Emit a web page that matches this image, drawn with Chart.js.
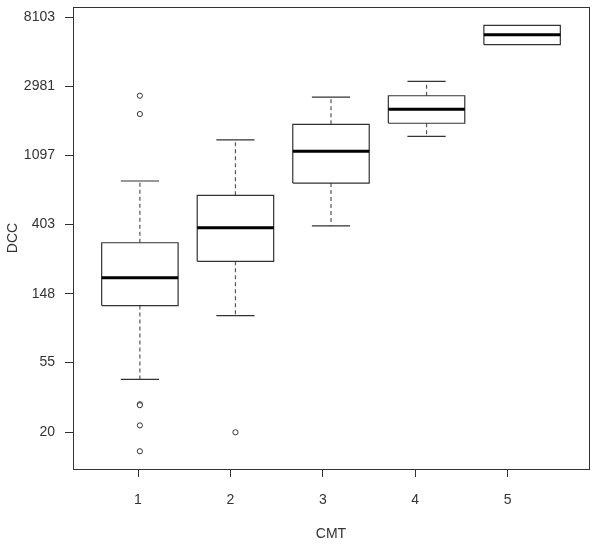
<!DOCTYPE html>
<html>
<head>
<meta charset="utf-8">
<style>
  html, body { margin: 0; padding: 0; background: #fff; }
  #wrap { width: 600px; height: 554px; }
</style>
<script src="https://cdn.jsdelivr.net/npm/chart.js@4/dist/chart.umd.min.js"></script>
</head>
<body>
<div id="wrap"><canvas id="box" width="600" height="554"></canvas></div>
<script>
// CMT groups and DCC box statistics (log scale)
const cats          = [1, 2, 3, 4, 5];
const lowerWhisker  = [43, 108, 395, 1444, 5431];
const q1            = [125, 237, 735, 1744, 5431];
const median        = [187, 385, 1162, 2134, 6273];
const q3            = [310, 615, 1718, 2597, 7186];
const upperWhisker  = [757, 1371, 2548, 3197, 7186];
const outlierCat    = [1, 1, 1, 1, 1, 1, 2];
const outlierVal    = [2597, 1993, 30, 29.6, 22.1, 15.2, 20];
const yTicks        = [20, 55, 148, 403, 1097, 2981, 8103];

const L = Math.log;
const BOX = 0.4, CAP = 0.2;
const FONT = { family: '"Liberation Sans", Arial, sans-serif', size: 14 };
const INK = '#333';

// build line segments separated by gaps
const boxPts = [], medPts = [], whiskPts = [], capPts = [];
cats.forEach((c, i) => {
  boxPts.push({x: c - BOX, y: L(q1[i])}, {x: c + BOX, y: L(q1[i])},
              {x: c + BOX, y: L(q3[i])}, {x: c - BOX, y: L(q3[i])},
              {x: c - BOX, y: L(q1[i])}, {x: c, y: null});
  medPts.push({x: c - BOX, y: L(median[i])}, {x: c + BOX, y: L(median[i])}, {x: c, y: null});
  if (upperWhisker[i] > q3[i]) {
    whiskPts.push({x: c, y: L(q3[i])}, {x: c, y: L(upperWhisker[i])}, {x: c, y: null});
    capPts.push({x: c - CAP, y: L(upperWhisker[i])}, {x: c + CAP, y: L(upperWhisker[i])}, {x: c, y: null});
  }
  if (lowerWhisker[i] < q1[i]) {
    whiskPts.push({x: c, y: L(q1[i])}, {x: c, y: L(lowerWhisker[i])}, {x: c, y: null});
    capPts.push({x: c - CAP, y: L(lowerWhisker[i])}, {x: c + CAP, y: L(lowerWhisker[i])}, {x: c, y: null});
  }
});
const outPts = outlierCat.map((c, i) => ({x: c, y: L(outlierVal[i])}));

const seg = { pointRadius: 0, tension: 0, spanGaps: false, fill: false };

// keep scales from reserving room for half-labels at the ends
function noPad(s) {
  s.paddingTop = 0; s.paddingBottom = 0; s.paddingLeft = 0; s.paddingRight = 0;
}

const frame = {
  id: 'frame',
  afterDatasetsDraw(chart) {
    const a = chart.chartArea, g = chart.ctx;
    g.save();
    g.strokeStyle = INK;
    g.lineWidth = 1;
    g.strokeRect(a.left + 0.5, a.top + 0.5, a.right - a.left, a.bottom - a.top);
    g.restore();
  }
};

new Chart(document.getElementById('box'), {
  type: 'line',
  data: {
    datasets: [
      { ...seg, data: outPts, showLine: false, pointRadius: 2.6, pointBorderWidth: 1,
        pointBackgroundColor: '#fff', pointBorderColor: INK },
      { ...seg, data: medPts, borderColor: '#000', borderWidth: 3, borderCapStyle: 'butt' },
      { ...seg, data: boxPts, borderColor: INK, borderWidth: 1.2, borderJoinStyle: 'miter' },
      { ...seg, data: capPts, borderColor: INK, borderWidth: 1.2 },
      { ...seg, data: whiskPts, borderColor: '#555', borderWidth: 1.2, borderDash: [4, 3] }
    ]
  },
  options: {
    responsive: false,
    animation: false,
    layout: { padding: { top: 7, right: 11, left: 0, bottom: 0 } },
    plugins: { legend: { display: false }, tooltip: { enabled: false } },
    scales: {
      x: { type: 'linear', min: 0.3, max: 5.7, display: false },
      xt: {
        type: 'linear', position: 'bottom', min: 0.2965, max: 5.88,
        afterBuildTicks: s => { s.ticks = cats.map(v => ({ value: v })); },
        afterFit: s => { s.height = 85; noPad(s); },
        grid: { drawOnChartArea: false, tickLength: 8, color: INK },
        border: { display: false },
        ticks: { color: INK, font: FONT, padding: 15, maxRotation: 0 },
        title: { display: true, text: 'CMT', color: INK, font: FONT, padding: 11 }
      },
      y: {
        type: 'linear', min: 2.465, max: 9.145,
        afterBuildTicks: s => { s.ticks = yTicks.map(v => ({ value: L(v) })); },
        afterFit: s => { s.width = 73; noPad(s); },
        grid: { drawOnChartArea: false, tickLength: 8, color: INK },
        border: { display: false },
        ticks: { color: INK, font: FONT, padding: 10, callback: (v, i) => yTicks[i] },
        title: { display: true, text: 'DCC', color: INK, font: FONT, padding: 5 }
      }
    }
  },
  plugins: [frame]
});
</script>
</body>
</html>
